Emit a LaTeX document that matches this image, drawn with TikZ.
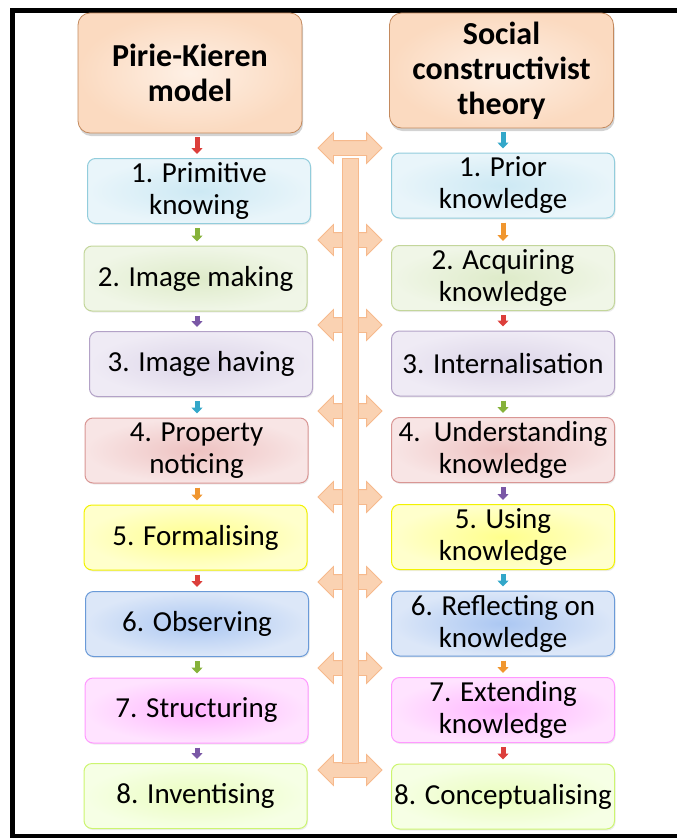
\documentclass[tikz,border=0pt]{standalone}
\usepackage{fontspec}
\setmainfont{Carlito}
\usetikzlibrary{arrows.meta,shapes.arrows,shadows,calc}

\definecolor{hdin}{HTML}{FEF0E5}
\definecolor{hdout}{HTML}{FBDAC0}
\definecolor{hdline}{HTML}{C48A5E}
\definecolor{barfill}{HTML}{FAD2B2}
\definecolor{barline}{HTML}{F6B98C}
\definecolor{arrred}{HTML}{DC3F3B}
\definecolor{arrgreen}{HTML}{86B23A}
\definecolor{arrpurple}{HTML}{7A58A6}
\definecolor{arrcyan}{HTML}{33A7C9}
\definecolor{arrorange}{HTML}{F0962F}
% box colours: line / centre / rim
\definecolor{blueln}{HTML}{92CDDC}  \definecolor{bluein}{HTML}{CDE9F4}  \definecolor{blueout}{HTML}{E9F5FA}
\definecolor{greenln}{HTML}{C3D69B} \definecolor{greenin}{HTML}{DEEBC9} \definecolor{greenout}{HTML}{F0F6E7}
\definecolor{purpln}{HTML}{B3A2C7}  \definecolor{purpin}{HTML}{DCD5E8}  \definecolor{purpout}{HTML}{EFEBF5}
\definecolor{redln}{HTML}{D99694}   \definecolor{redin}{HTML}{EEC2C1}   \definecolor{redout}{HTML}{F8E5E5}
\definecolor{yellln}{HTML}{F2F200}  \definecolor{yellin}{HTML}{FFFF8C}  \definecolor{yellout}{HTML}{FFFFCC}
\definecolor{deepln}{HTML}{6A9AD8}  \definecolor{deepin}{HTML}{ABC7F2}  \definecolor{deepout}{HTML}{DCE7F8}
\definecolor{pinkln}{HTML}{FF99FF}  \definecolor{pinkin}{HTML}{FFB6FF}  \definecolor{pinkout}{HTML}{FFE3FF}
\definecolor{limeln}{HTML}{CCF570}  \definecolor{limein}{HTML}{EAFDBE}  \definecolor{limeout}{HTML}{F6FFE5}

\begin{document}
\begin{tikzpicture}[x=1pt, y=-1pt,
    headbox/.style={rectangle, rounded corners=12pt, draw=hdline, line width=0.8pt,
      inner color=hdin, outer color=hdout, minimum width=224pt, inner sep=3pt, align=center,
      font=\fontsize{32}{35}\selectfont\bfseries,
      drop shadow={opacity=.35, shadow xshift=1pt, shadow yshift=-3pt}},
    stagebox/.style={rectangle, rounded corners=8pt, line width=1pt, minimum width=223pt,
      minimum height=65pt, inner sep=2pt, align=center, font=\fontsize{29}{32}\selectfont,
      drop shadow={opacity=.15, shadow xshift=1pt, shadow yshift=-1.5pt}},
    bluebox/.style={stagebox, draw=blueln, inner color=bluein, outer color=blueout},
    greenbox/.style={stagebox, draw=greenln, inner color=greenin, outer color=greenout},
    purplebox/.style={stagebox, draw=purpln, inner color=purpin, outer color=purpout},
    redbox/.style={stagebox, draw=redln, inner color=redin, outer color=redout},
    yellowbox/.style={stagebox, draw=yellln, inner color=yellin, outer color=yellout},
    deepbox/.style={stagebox, draw=deepln, inner color=deepin, outer color=deepout},
    pinkbox/.style={stagebox, draw=pinkln, inner color=pinkin, outer color=pinkout},
    limebox/.style={stagebox, draw=limeln, inner color=limein, outer color=limeout},
    stagearr/.style={line width=5pt, draw=#1, -{Triangle[width=11pt, length=6pt]}},
    linkarr/.style={double arrow, draw=barline, fill=barfill, line width=0.8pt,
      minimum height=64pt, double arrow head extend=8pt, inner xsep=0pt, inner ysep=7pt}
  ]
  \useasboundingbox (0,0) rectangle (677,838);

  % outer frame
  \draw[line width=5pt] (700,10) -- (12.5,10) -- (12.5,836) -- (700,836);

  % headings
  \node[headbox, minimum height=120pt] (l0) at (190,73) {Pirie-Kieren\\model};
  \node[headbox, minimum height=115pt] (r0) at (501.5,70.5) {Social\\constructivist\\theory};

  % Pirie-Kieren stages
  \node[bluebox]   (l1) at (199,191)   {1. Primitive\\knowing};
  \node[greenbox]  (l2) at (195.5,278.5) {2. Image making};
  \node[purplebox] (l3) at (201,364)   {3. Image having};
  \node[redbox]    (l4) at (196.5,450.5) {4. Property\\noticing};
  \node[yellowbox] (l5) at (195.5,537.5) {5. Formalising};
  \node[deepbox]   (l6) at (197,624)   {6. Observing};
  \node[pinkbox]   (l7) at (196.5,710.5) {7. Structuring};
  \node[limebox]   (l8) at (195.5,796) {8. Inventising};

  % social constructivist stages
  \node[bluebox]   (r1) at (503,185.5) {1. Prior\\knowledge};
  \node[greenbox]  (r2) at (503,278)   {2. Acquiring\\knowledge};
  \node[purplebox] (r3) at (503,363.5) {3. Internalisation};
  \node[redbox]    (r4) at (503,450)   {4.\ \ Understanding\\knowledge};
  \node[yellowbox] (r5) at (503,537)   {5. Using\\knowledge};
  \node[deepbox]   (r6) at (503,623.5) {6. Reflecting on\\knowledge};
  \node[pinkbox]   (r7) at (503,710)   {7. Extending\\knowledge};
  \node[limebox]   (r8) at (503,796.5) {8. Conceptualising};

  % small arrows down each column
  \coordinate (lc) at (197,0);
  \coordinate (rc) at (503,0);
  \foreach \a/\b/\c in {l0/l1/arrred, l1/l2/arrgreen, l2/l3/arrpurple, l3/l4/arrcyan,
                        l4/l5/arrorange, l5/l6/arrred, l6/l7/arrgreen, l7/l8/arrpurple}
    \draw[stagearr=\c] ([yshift=-4pt]\a.south -| lc) -- ([yshift=4pt]\b.north -| lc);
  \foreach \a/\b/\c in {r0/r1/arrcyan, r1/r2/arrorange, r2/r3/arrred, r3/r4/arrgreen,
                        r4/r5/arrpurple, r5/r6/arrcyan, r6/r7/arrorange, r7/r8/arrred}
    \draw[stagearr=\c] ([yshift=-4pt]\a.south -| rc) -- ([yshift=4pt]\b.north -| rc);

  % links between the two columns
  \foreach \n/\y in {1/148, 2/240, 3/325, 4/411, 5/497, 6/582, 7/668, 8/770}
    \node[linkarr] (a\n) at (350,\y) {};
  \path[draw=barline, fill=barfill, line width=0.8pt]
    ([xshift=-8pt,yshift=-10pt]a1.center) rectangle ([xshift=8pt,yshift=7pt]a8.center);
\end{tikzpicture}
\end{document}
